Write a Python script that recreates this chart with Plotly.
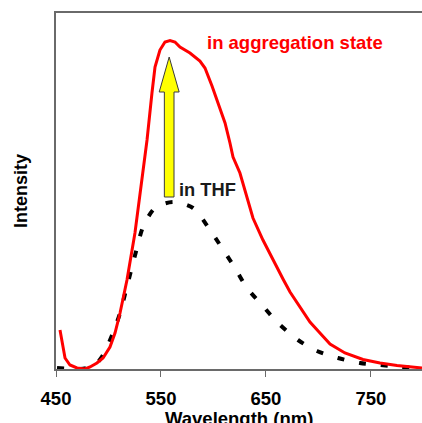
import plotly.graph_objects as go

# Red curve: in aggregation state
agg_wl = [453.8, 455.7, 458.6, 463.3, 470.0, 477.6, 482.4, 489.0, 494.8, 501.4,
          506.2, 511.0, 517.6, 525.2, 531.0, 536.7, 541.4, 544.3, 549.0, 553.8,
          558.6, 563.3, 568.1, 577.6, 587.1, 591.9, 598.6, 605.2, 611.0, 615.7,
          618.6, 625.2, 631.9, 637.6, 647.1, 656.7, 666.2, 672.9, 682.4, 691.9,
          701.4, 711.0, 725.2, 742.4, 758.6, 774.8, 798.6]
agg_int = [39, 26, 11, 4, 1, 0, 2, 6, 11, 22,
           36, 56, 89, 136, 182, 229, 276, 302, 319, 327,
           328.5, 327, 322, 316, 308, 301, 283, 263, 246, 226,
           212, 196, 172, 151, 129, 109, 90, 77, 62, 47,
           36, 25, 16, 9.5, 6, 3.5, 1]

# Black dashed curve: in THF
thf_wl = [450.95, 472.9, 482.4, 489.0, 494.8, 504.3, 511.0, 516.7, 522.4, 527.1,
          532.9, 544.3, 561.4, 580.5, 594.8, 608.1, 620.5, 631.9, 646.2, 661.4,
          680.5, 698.6, 718.6, 739.5, 758.6, 777.6, 793.8]
thf_int = [1, 0, 2, 6, 14, 36, 56, 79, 102, 121,
           142, 161, 167, 161, 142, 121, 101, 81, 64, 46,
           29, 18, 11, 6, 4, 2, 1]

x_ticks = [450, 550, 650, 750]
x_tick_labels = ["450", "550", "650", "750"]

# Block arrow (data units)
arrow_center = 557.8
arrow_bottom = 172
arrow_head_base = 277
arrow_tip = 312
arrow_shaft_half = 4.6
arrow_head_half = 9.5

ax = [arrow_center - arrow_shaft_half, arrow_center - arrow_shaft_half,
      arrow_center - arrow_head_half, arrow_center,
      arrow_center + arrow_head_half, arrow_center + arrow_shaft_half,
      arrow_center + arrow_shaft_half, arrow_center - arrow_shaft_half]
ay = [arrow_bottom, arrow_head_base, arrow_head_base, arrow_tip,
      arrow_head_base, arrow_head_base, arrow_bottom, arrow_bottom]

FONT = "Liberation Sans, Arial, sans-serif"
AXC = "#6a6a6a"

fig = go.Figure()
fig.add_trace(go.Scatter(x=thf_wl, y=thf_int, mode="lines",
                         line=dict(color="black", width=4, dash="7px,15px", shape="spline", smoothing=0.8),
                         showlegend=False, hoverinfo="skip"))
fig.add_trace(go.Scatter(x=agg_wl, y=agg_int, mode="lines",
                         line=dict(color="#ff0000", width=3),
                         showlegend=False, hoverinfo="skip"))
fig.add_trace(go.Scatter(x=ax, y=ay, mode="lines", fill="toself",
                         fillcolor="#ffff00", line=dict(color="#3a3a3a", width=1),
                         showlegend=False, hoverinfo="skip"))

fig.add_annotation(x=592.0, y=327, xref="x", yref="y", text="in aggregation state",
                   showarrow=False, xanchor="left", yanchor="middle",
                   font=dict(family=FONT, size=18.5, color="#ff0000", weight="bold"))
fig.add_annotation(x=565.5, y=180, xref="x", yref="y", text="in THF",
                   showarrow=False, xanchor="left", yanchor="middle",
                   font=dict(family=FONT, size=18.3, color="#1a1a1a", weight="bold"))
# x-axis title placed below the tick labels (partly cut by the bottom edge, as in the original)
fig.add_annotation(x=0.5, y=-0.138, xref="paper", yref="paper", text="Wavelength (nm)",
                   showarrow=False, xanchor="center", yanchor="middle",
                   font=dict(family=FONT, size=18.5, color="black", weight="bold"))

fig.update_layout(
    width=422, height=423,
    margin=dict(l=56, r=0, t=13, b=54, autoexpand=False),
    paper_bgcolor="white", plot_bgcolor="white",
    xaxis=dict(range=[450, 798.6], tickvals=x_ticks, ticktext=x_tick_labels,
               automargin=False,
               showgrid=False, zeroline=False, showline=True, linecolor=AXC, linewidth=2,
               mirror=True, ticks="outside", ticklen=6, tickcolor=AXC, tickwidth=1,
               ticklabelstandoff=6,
               tickfont=dict(family=FONT, size=18.5, color="black", weight="bold")),
    yaxis=dict(range=[0, 356], showgrid=False, zeroline=False, showline=True,
               automargin=False,
               linecolor=AXC, linewidth=2, showticklabels=False, ticks="",
               title=dict(text="Intensity", standoff=22,
                          font=dict(family=FONT, size=18, color="black", weight="bold"))),
)

fig.write_html("out.html", config={"displayModeBar": False},
               post_script="document.body.style.margin='0';document.body.style.overflow='hidden';")
